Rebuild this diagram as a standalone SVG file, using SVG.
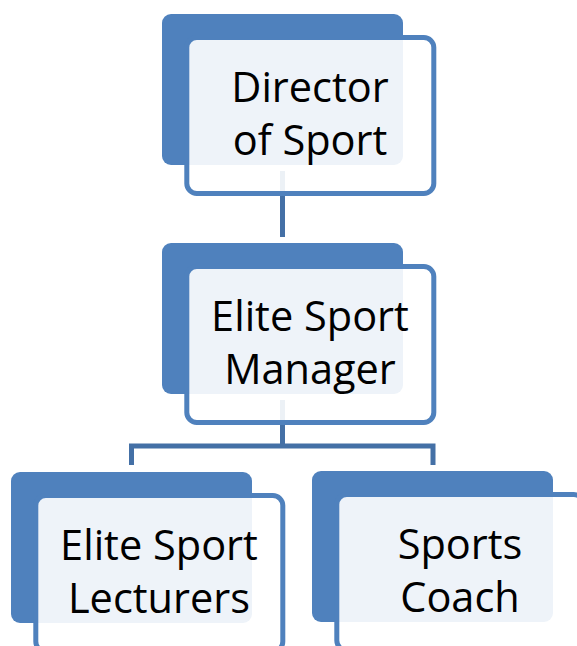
<svg xmlns="http://www.w3.org/2000/svg" width="577" height="646" viewBox="0 0 577 646">
  <style>
    .back { fill: #4F81BD; }
    .front { fill: #FFFFFF; fill-opacity: 0.9; stroke: #4F81BD; stroke-width: 5; }
    .label { font-family: "Open Sans", Lato, sans-serif; font-size: 41.5px; fill: #000000; text-anchor: middle; }
    .conn { fill: none; stroke: #4470A6; stroke-width: 5; stroke-linejoin: miter; }
  </style>
  <rect width="577" height="646" fill="#FFFFFF"/>
  <g id="connectors">
    <path class="conn" d="M282.5 171 V237"/>
    <path class="conn" d="M282.5 400 V446"/>
    <path class="conn" d="M131.5 465 V446 H433 V465"/>
  </g>
  <g id="node-director" transform="translate(162,14)">
    <rect class="back" x="0" y="0" width="241" height="151" rx="9"/>
    <rect class="front" x="24.8" y="23.5" width="247" height="156" rx="10"/>
    <text class="label" x="148" y="88">Director</text>
    <text class="label" x="148" y="141">of Sport</text>
  </g>
  <g id="node-manager" transform="translate(162,243)">
    <rect class="back" x="0" y="0" width="241" height="151" rx="9"/>
    <rect class="front" x="24.8" y="23.5" width="247" height="156" rx="10"/>
    <text class="label" x="148" y="88">Elite Sport</text>
    <text class="label" x="148" y="141">Manager</text>
  </g>
  <g id="node-lecturers" transform="translate(11,472)">
    <rect class="back" x="0" y="0" width="241" height="151" rx="9"/>
    <rect class="front" x="24.8" y="23.5" width="247" height="156" rx="10"/>
    <text class="label" x="148" y="88">Elite Sport</text>
    <text class="label" x="148" y="141">Lecturers</text>
  </g>
  <g id="node-coach" transform="translate(312,471)">
    <rect class="back" x="0" y="0" width="241" height="151" rx="9"/>
    <rect class="front" x="24.8" y="23.5" width="247" height="156" rx="10"/>
    <text class="label" x="148" y="88">Sports</text>
    <text class="label" x="148" y="141">Coach</text>
  </g>
</svg>
